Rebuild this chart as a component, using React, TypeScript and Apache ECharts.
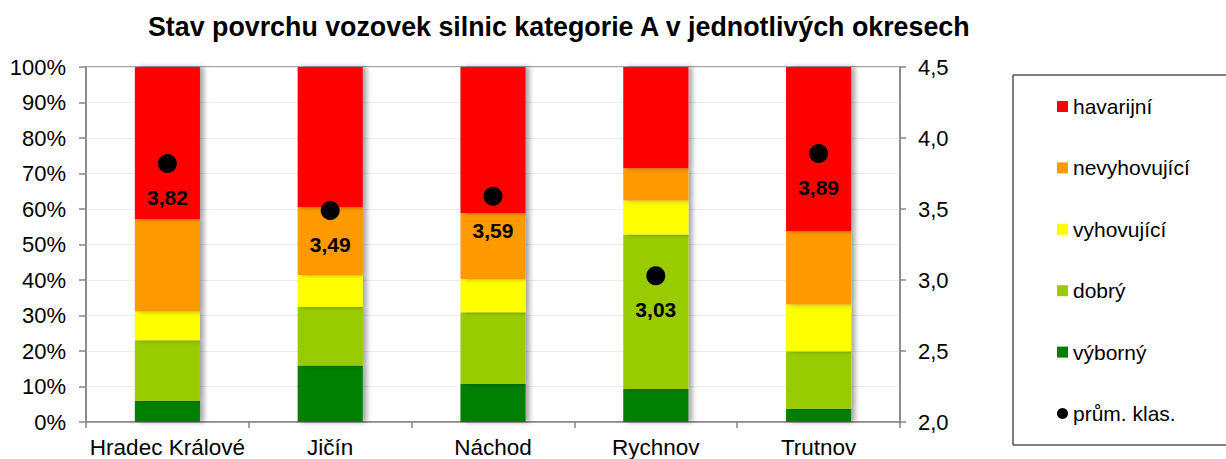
import React, { useEffect, useRef } from "react";
import * as echarts from "echarts";

const categories = ["Hradec Králové", "Jičín", "Náchod", "Rychnov", "Trutnov"];
const vyborny = [6.0, 15.9, 10.7, 9.3, 3.7];
const dobry = [17.0, 16.5, 20.2, 43.5, 16.2];
const vyhovujici = [8.1, 9.0, 9.4, 9.6, 13.2];
const nevyhovujici = [26.0, 19.1, 18.5, 9.1, 20.6];
const havarijni = [42.9, 39.5, 41.2, 28.5, 46.3];
const prumKlas = [3.82, 3.49, 3.59, 3.03, 3.89];
const leftTicks = [0, 10, 20, 30, 40, 50, 60, 70, 80, 90, 100];
const rightTicks = [2.0, 2.5, 3.0, 3.5, 4.0, 4.5];

const FONT = "'Liberation Sans', Arial, sans-serif";
const AXIS_COLOR = "#868686";

export default function App() {
  const ref = useRef<HTMLDivElement>(null);
  useEffect(() => {
    if (!ref.current) return;
    const chart = echarts.init(ref.current, null, { renderer: "svg" });
    const barStyle = (color: string) => ({
      color,
      shadowColor: "rgba(0,0,0,0.35)",
      shadowBlur: 5,
      shadowOffsetX: 4,
      shadowOffsetY: 0,
    });
    const barSeries = [
      { name: "výborný", data: vyborny, color: "#008000" },
      { name: "dobrý", data: dobry, color: "#99cc00" },
      { name: "vyhovující", data: vyhovujici, color: "#ffff00" },
      { name: "nevyhovující", data: nevyhovujici, color: "#ff9900" },
      { name: "havarijní", data: havarijni, color: "#ff0000" },
    ].map((s) => ({
      type: "bar",
      name: s.name,
      data: s.data,
      stack: "total",
      barWidth: "40%",
      itemStyle: barStyle(s.color),
      z: 2,
    }));
    chart.setOption({
      animation: false,
      textStyle: { fontFamily: FONT, color: "#000" },
      title: {
        text: "Stav povrchu vozovek silnic kategorie A v jednotlivých okresech",
        left: 148,
        top: 13,
        padding: 0,
        textStyle: { fontFamily: FONT, fontSize: 26.8, fontWeight: "bold", color: "#000" },
      },
      grid: {
        left: 86,
        right: 326,
        top: 67,
        bottom: 36,
        show: true,
        borderColor: AXIS_COLOR,
        borderWidth: 1.5,
        containLabel: false,
      },
      graphic: [
        {
          type: "rect",
          shape: { x: 1013, y: 75, width: 240, height: 370 },
          style: { fill: "none", stroke: "#000", lineWidth: 1 },
          z: 0,
        },
      ],
      legend: {
        orient: "vertical",
        left: 1052,
        top: 91,
        itemWidth: 11,
        itemHeight: 11,
        itemGap: 40.4,
        textStyle: { fontFamily: FONT, fontSize: 21, color: "#000", lineHeight: 20 },
        data: [
          { name: "havarijní", icon: "rect" },
          { name: "nevyhovující", icon: "rect" },
          { name: "vyhovující", icon: "rect" },
          { name: "dobrý", icon: "rect" },
          { name: "výborný", icon: "rect" },
          { name: "prům. klas.", icon: "circle" },
        ],
      },
      xAxis: {
        type: "category",
        data: categories,
        boundaryGap: true,
        axisLine: { lineStyle: { color: AXIS_COLOR, width: 1.5 } },
        axisTick: { show: true, length: 6, lineStyle: { color: AXIS_COLOR, width: 1.5 } },
        axisLabel: { fontFamily: FONT, fontSize: 22.5, color: "#000", margin: 14, interval: 0 },
      },
      yAxis: [
        {
          type: "value",
          min: leftTicks[0],
          max: leftTicks[leftTicks.length - 1],
          interval: 10,
          axisLine: { show: true, lineStyle: { color: AXIS_COLOR, width: 1.5 } },
          axisTick: { show: true, length: 7, lineStyle: { color: AXIS_COLOR, width: 1.5 } },
          axisLabel: {
            fontFamily: FONT,
            fontSize: 22,
            color: "#000",
            margin: 20,
            formatter: (v: number) => `${v}%`,
          },
          splitLine: { show: true, lineStyle: { color: "#ececec", width: 1 } },
        },
        {
          type: "value",
          min: rightTicks[0],
          max: rightTicks[rightTicks.length - 1],
          interval: 0.5,
          position: "right",
          axisLine: { show: true, lineStyle: { color: AXIS_COLOR, width: 1.5 } },
          axisTick: { show: true, length: 6, lineStyle: { color: AXIS_COLOR, width: 1.5 } },
          axisLabel: {
            fontFamily: FONT,
            fontSize: 22,
            color: "#000",
            margin: 18,
            formatter: (v: number) => v.toFixed(1).replace(".", ","),
          },
          splitLine: { show: false },
        },
      ],
      series: [
        ...barSeries,
        {
          type: "scatter",
          name: "prům. klas.",
          yAxisIndex: 1,
          data: prumKlas,
          symbol: "circle",
          symbolSize: 19,
          itemStyle: { color: "#000", opacity: 1 },
          z: 5,
          label: {
            show: true,
            position: "bottom",
            distance: 14,
            fontFamily: FONT,
            fontSize: 21,
            fontWeight: "bold",
            color: "#000",
            formatter: (p: any) => Number(p.value).toFixed(2).replace(".", ","),
          },
        },
      ],
    });
    return () => chart.dispose();
  }, []);
  return <div ref={ref} style={{ width: 1226, height: 459, position: "absolute", left: 0, top: 0 }} />;
}
